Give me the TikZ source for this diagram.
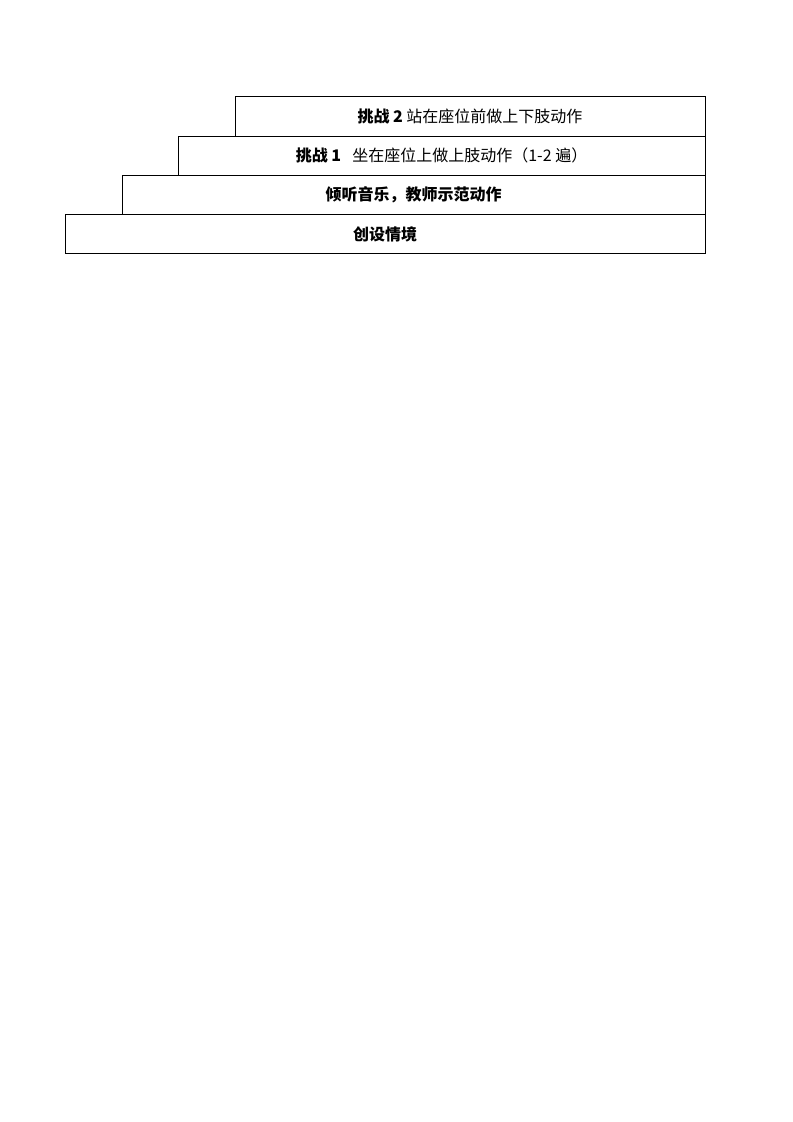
\documentclass[tikz,border=0pt]{standalone}
\usepackage{fontspec}
\setmainfont{Noto Sans CJK SC}
\newfontfamily\cjk{Noto Sans CJK SC}
\begin{document}
\begin{tikzpicture}[x=0.75pt,y=-0.75pt,
  stepbox/.style={draw=black,line width=0.75pt,rectangle,inner sep=0pt,
    minimum height=29.55pt,font=\cjk\fontsize{12pt}{14pt}\selectfont}]
\useasboundingbox (0,0) rectangle (793,1122);
\node[stepbox,minimum width=480pt] (b1) at (385,234.2) {\textbf{创设情境}};
\node[stepbox,minimum width=437.25pt] (b2) at (413.5,194.8) {\textbf{倾听音乐，教师示范动作}};
\node[stepbox,minimum width=395.25pt] (b3) at (441.5,155.8) {\textbf{挑战 1}\hspace{0.7em}坐在座位上做上肢动作（1-2 遍）};
\node[stepbox,minimum width=352.5pt] (b4) at (470,116.3) {\textbf{挑战 2} 站在座位前做上下肢动作};
\end{tikzpicture}
\end{document}
